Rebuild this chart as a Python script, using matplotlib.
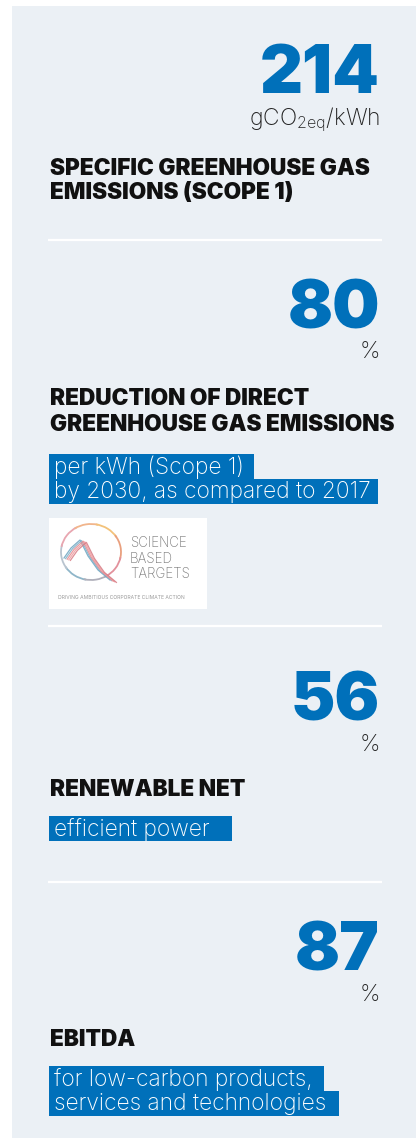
import matplotlib
matplotlib.use("Agg")
import matplotlib.pyplot as plt
from matplotlib.patches import Rectangle, Arc
from matplotlib import font_manager

# key figures, top to bottom
values = ["214", "80", "56", "87"]
units = ["gCO$_{\\mathregular{2eq}}$/kWh", "%", "%", "%"]
headings = [
    ["SPECIFIC GREENHOUSE GAS", "EMISSIONS (SCOPE 1)"],
    ["REDUCTION OF DIRECT", "GREENHOUSE GAS EMISSIONS"],
    ["RENEWABLE NET"],
    ["EBITDA"],
]
notes = [
    [],
    ["per kWh (Scope 1)", "by 2030, as compared to 2017"],
    ["efficient power"],
    ["for low-carbon products,", "services and technologies"],
]
logo_words = ["SCIENCE", "BASED", "TARGETS"]

# layout in pixels (y grows downward)
W, H = 416, 1138
num_y = [93, 328, 720, 970]
unit_y = [125, 358, 751, 1001]
head_y = [175, 405, 796, 1046]
head_step = [24, 26, 25, 25]
box_top = [None, 454, 816, 1066]
note_pad = [[], [10, 7], [22], [11, 13]]
sep_y = [240, 626, 882]
BOX_H = 24.5

BLUE = "#0070ba"
PANEL = "#ebf0f5"
INK = "#111111"

_entries = font_manager.fontManager.ttflist
_names = {e.name for e in _entries}


def _w(e):
    try:
        return int(e.weight)
    except (TypeError, ValueError):
        return {"black": 900, "heavy": 800, "extra bold": 800, "bold": 700,
                "light": 300}.get(str(e.weight).lower(), 400)


def pick(fams, lo=0, hi=1000):
    for f in fams:
        for e in _entries:
            if e.name == f and lo <= _w(e) <= hi:
                return f
    for f in fams:
        if f in _names:
            return f
    return "DejaVu Sans"


HEAVY = pick(["Inter", "Roboto", "Lato", "Open Sans", "Noto Sans"], lo=800)
LIGHT = pick(["Inter", "Roboto", "Lato", "Open Sans", "Liberation Sans"], hi=350)

plt.rcParams["mathtext.fontset"] = "custom"
plt.rcParams["mathtext.rm"] = LIGHT + ":light"

fig = plt.figure(figsize=(W / 100, H / 100), dpi=100)
fig.patch.set_facecolor("white")
ax = fig.add_axes([0, 0, 1, 1])
ax.set_xlim(0, W)
ax.set_ylim(H, 0)
ax.axis("off")

ax.add_patch(Rectangle((12, 6), W - 12, H - 6, facecolor=PANEL, edgecolor="none"))
for y in sep_y:
    ax.plot([48, 382], [y, y], color="white", lw=1.6, solid_capstyle="butt")

note_texts = []
for i, v in enumerate(values):
    ax.text(380, num_y[i], v, color=BLUE, fontsize=48, fontfamily=HEAVY,
            fontweight="black", ha="right", va="baseline")
    ax.text(380, unit_y[i], units[i], color="#222222", fontsize=16.5,
            fontfamily=LIGHT, fontweight="light", ha="right", va="baseline")
    for j, line in enumerate(headings[i]):
        ax.text(50, head_y[i] + j * head_step[i], line, color=INK, fontsize=16.3,
                fontfamily=HEAVY, fontweight="black", ha="left", va="baseline")
    for j, line in enumerate(notes[i]):
        t = ax.text(54, box_top[i] + j * BOX_H + 19.6, line, color="white",
                    fontsize=16.4, fontfamily=LIGHT, fontweight="light",
                    ha="left", va="baseline", zorder=3)
        note_texts.append((t, box_top[i] + j * BOX_H, note_pad[i][j]))

# highlight bars sized to each note line
fig.canvas.draw()
rend = fig.canvas.get_renderer()
inv = ax.transData.inverted()
for t, top, pad in note_texts:
    bb = t.get_window_extent(rend)
    x1 = inv.transform((bb.x1, 0))[0]
    ax.add_patch(Rectangle((49, top), x1 + pad - 49, BOX_H + 0.6,
                           facecolor=BLUE, edgecolor="none", zorder=2))

# science based targets badge
ax.add_patch(Rectangle((49, 518), 158, 91, facecolor="white", edgecolor="none"))
ring = ["#8fb6c9", "#b9c4cf", "#e8a6b0", "#f1b58c", "#f3c27a", "#e9a07e", "#e2919c", "#b0b0bb"]
for k, c in enumerate(ring):
    ax.add_patch(Arc((91, 552), 60, 56, theta1=100 + k * 45, theta2=150 + k * 45,
                     color=c, lw=1.3))
zig_x = [64, 71, 80, 88, 98, 110]
zig_y = [558, 548, 540, 556, 570, 580]
for k, c in enumerate(["#6aa3c0", "#7fb0c8", "#e88a8f", "#ee9da0", "#d77b84"]):
    ax.plot([x + k * 1.6 for x in zig_x], [y + k * 0.6 for y in zig_y],
            color=c, lw=0.9, alpha=0.85)
for k, w in enumerate(logo_words):
    ax.text(130, 547 + k * 15.5, w, color="#7a7a7a", fontsize=9.6,
            fontfamily=LIGHT, fontweight="light", ha="left", va="baseline")
ax.text(58, 599, "DRIVING AMBITIOUS CORPORATE CLIMATE ACTION", color="#9a9a9a",
        fontsize=3.6, fontfamily=LIGHT, ha="left", va="baseline")

fig.savefig("out.png", dpi=100, facecolor="white")
